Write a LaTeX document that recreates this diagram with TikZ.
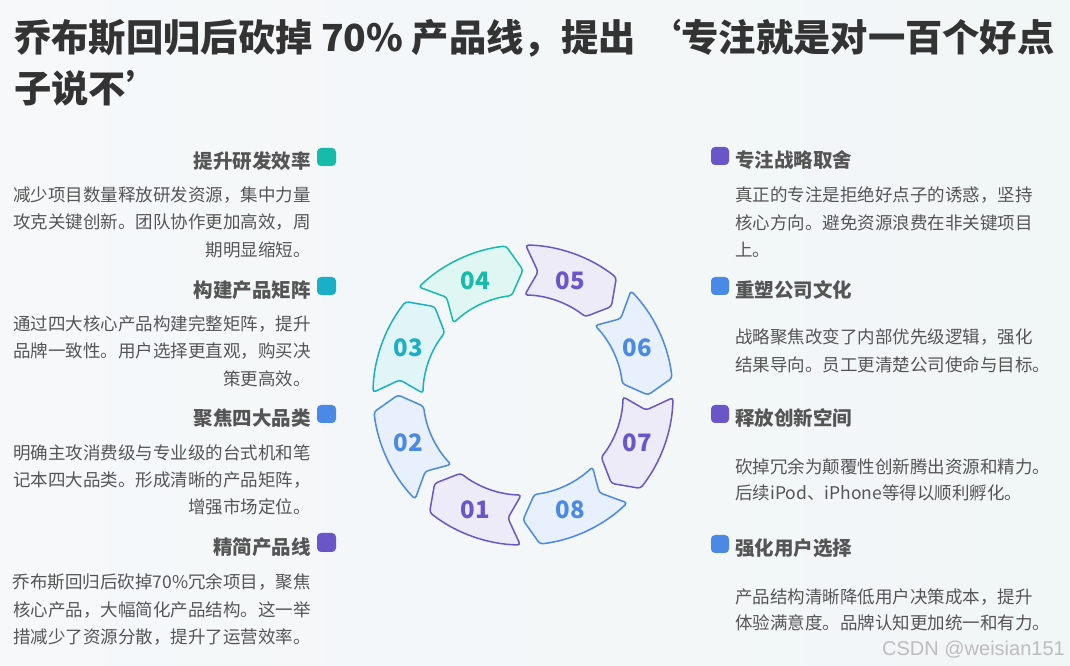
\documentclass[tikz,border=0pt]{standalone}
\usepackage{fontspec}
\setmainfont{Noto Sans CJK SC}
\newfontfamily\wmfont{Liberation Sans}
\definecolor{txt}{HTML}{555555}
\definecolor{ttl}{HTML}{333333}
\definecolor{pur}{HTML}{6A55C9}
\definecolor{purf}{HTML}{EEEBF9}
\definecolor{blu}{HTML}{4A89E6}
\definecolor{bluf}{HTML}{E7F0FC}
\definecolor{tea}{HTML}{17BBAA}
\definecolor{teaf}{HTML}{DFF6F2}
\definecolor{cya}{HTML}{1AAFC6}
\definecolor{cyaf}{HTML}{E1F4F7}
\definecolor{bgl}{HTML}{F6F8FA}
\definecolor{bgr}{HTML}{F1F6F7}
\definecolor{wmc}{HTML}{BDBDBD}
\begin{document}
\begin{tikzpicture}[x=1pt,y=1pt,
  titletext/.style={font=\fontsize{37.3}{44}\selectfont\bfseries, text=ttl, inner sep=0pt, anchor=base west},
  headL/.style={font=\fontsize{19.5}{24}\selectfont\bfseries, text=txt, inner sep=0pt, anchor=base east},
  headR/.style={font=\fontsize{19.5}{24}\selectfont\bfseries, text=txt, inner sep=0pt, anchor=base west},
  bodyL/.style={font=\fontsize{17.5}{22}\selectfont, text=txt, inner sep=0pt, anchor=base east},
  bodyR/.style={font=\fontsize{17.5}{22}\selectfont, text=txt, inner sep=0pt, anchor=base west},
  icon/.style={rounded corners=4pt, draw=none},
  seg/.style={line width=1.5pt, rounded corners=3pt},
  num/.style={font=\fontsize{24}{28}\selectfont\bfseries, inner sep=0pt}
]
\useasboundingbox (0,0) rectangle (1070,666);
\fill[left color=bgl, right color=bgr] (0,0) rectangle (1070,666);

% title
\node[titletext] (t1) at (14,614.8) {乔布斯回归后砍掉 70\% 产品线，提出 ‘专注就是对一百个好点};
\node[titletext] (t2) at (14,563.8) {子说不’};

% ring
\begin{scope}[shift={(523,271)}]
\foreach \c/\sc/\fc/\n in {247.5/pur/purf/01, 202.5/blu/bluf/02, 157.5/cya/cyaf/03, 112.5/tea/teaf/04, 67.5/pur/purf/05, 22.5/blu/bluf/06, -22.5/pur/purf/07, -67.5/blu/bluf/08}{
  \draw[seg, draw=\sc, fill=\fc] (\c+21.5:150) arc[start angle=\c+21.5, end angle=\c-16, radius=150]
     -- (\c-22.5:125) -- (\c-16:100) arc[start angle=\c-16, end angle=\c+21.5, radius=100]
     -- (\c+15.5:124) -- cycle;
  \node[num, text=\sc] (n\n) at (\c:124) {\n};
}
\end{scope}

% left icons
\fill[icon, tea] (317,666-166) rectangle (336,666-148);
\fill[icon, cya] (317,666-295) rectangle (336,666-277);
\fill[icon, blu] (317,666-423) rectangle (336,666-405);
\fill[icon, pur] (317,666-552) rectangle (336,666-533);
% right icons
\fill[icon, pur] (711,666-165) rectangle (729,666-147);
\fill[icon, blu] (711,666-295) rectangle (729,666-277);
\fill[icon, pur] (711,666-423) rectangle (729,666-405);
\fill[icon, blu] (711,666-553) rectangle (729,666-535);

% left headings
\node[headL] (h1) at (311,497.6) {提升研发效率};
\node[headL] (h2) at (311,368.6) {构建产品矩阵};
\node[headL] (h3) at (311,240.6) {聚焦四大品类};
\node[headL] (h4) at (311,111.6) {精简产品线};
% left bodies
\node[bodyL] (b1a) at (311,464.4) {减少项目数量释放研发资源，集中力量};
\node[bodyL] (b1b) at (311,437.4) {攻克关键创新。团队协作更加高效，周};
\node[bodyL] (b1c) at (311,409.9) {期明显缩短。};
\node[bodyL] (b2a) at (311,335.9) {通过四大核心产品构建完整矩阵，提升};
\node[bodyL] (b2b) at (311,308.4) {品牌一致性。用户选择更直观，购买决};
\node[bodyL] (b2c) at (311,280.9) {策更高效。};
\node[bodyL] (b3a) at (311,206.3) {明确主攻消费级与专业级的台式机和笔};
\node[bodyL] (b3b) at (311,179.3) {记本四大品类。形成清晰的产品矩阵，};
\node[bodyL] (b3c) at (311,152.3) {增强市场定位。};
\node[bodyL] (b4a) at (311,77.3) {乔布斯回归后砍掉70\%冗余项目，聚焦};
\node[bodyL] (b4b) at (311,49.3) {核心产品，大幅简化产品结构。这一举};
\node[bodyL] (b4c) at (311,22.3) {措减少了资源分散，提升了运营效率。};

% right headings
\node[headR] (h5) at (735,498.6) {专注战略取舍};
\node[headR] (h6) at (735,368.6) {重塑公司文化};
\node[headR] (h7) at (735,240.6) {释放创新空间};
\node[headR] (h8) at (735,110.6) {强化用户选择};
% right bodies
\node[bodyR] (b5a) at (735,464.4) {真正的专注是拒绝好点子的诱惑，坚持};
\node[bodyR] (b5b) at (735,436.4) {核心方向。避免资源浪费在非关键项目};
\node[bodyR] (b5c) at (735,409.4) {上。};
\node[bodyR] (b6a) at (735,322.4) {战略聚焦改变了内部优先级逻辑，强化};
\node[bodyR] (b6b) at (735,294.4) {结果导向。员工更清楚公司使命与目标。};
\node[bodyR] (b7a) at (735,192.4) {砍掉冗余为颠覆性创新腾出资源和精力。};
\node[bodyR] (b7b) at (735,166.4) {后续iPod、iPhone等得以顺利孵化。};
\node[bodyR] (b8a) at (735,62.4) {产品结构清晰降低用户决策成本，提升};
\node[bodyR] (b8b) at (735,36.4) {体验满意度。品牌认知更加统一和有力。};

% watermark
\node[font=\wmfont\fontsize{20}{24}\selectfont, text=wmc, inner sep=0pt, anchor=base east] (wm) at (1065,10) {CSDN @weisian151};
\end{tikzpicture}
\end{document}
